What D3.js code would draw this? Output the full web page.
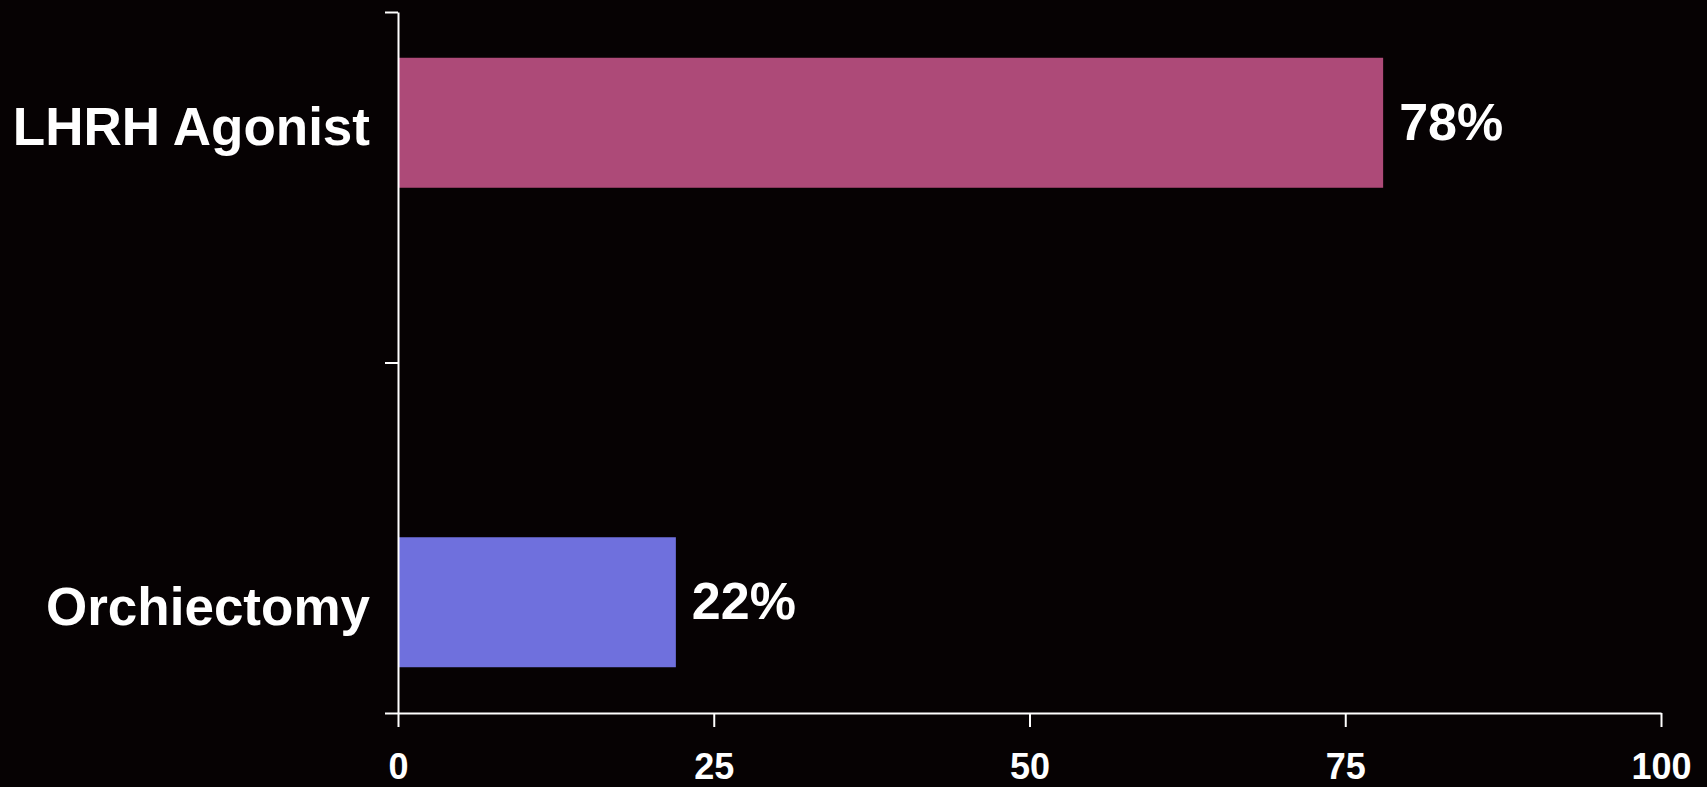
<!DOCTYPE html>
<html>
<head>
<meta charset="utf-8">
<script src="https://cdn.jsdelivr.net/npm/d3@7"></script>
<style>
  html, body { margin: 0; padding: 0; background: #060203; }
  svg { display: block; }
</style>
</head>
<body>
<svg id="chart"></svg>
<script>
// data
const categories = ["LHRH Agonist", "Orchiectomy"];
const values = [78, 22];
const barColors = ["#AD4A78", "#6F70DD"];
const xTicks = [0, 25, 50, 75, 100];

const W = 1707, H = 787;
const margin = {top: 12, right: 46, bottom: 74, left: 398};
const width = W - margin.left - margin.right,
      height = H - margin.top - margin.bottom;

const svg = d3.select("#chart")
    .attr("width", W)
    .attr("height", H)
    .style("font-family", "'Liberation Sans', Arial, sans-serif")
    .style("font-weight", "bold");

svg.append("rect").attr("width", W).attr("height", H).attr("fill", "#060203");

const g = svg.append("g")
    .attr("transform", `translate(${margin.left},${margin.top})`);

// scales
const x = d3.scaleLinear().domain([0, 100]).range([0, width]);

const y = d3.scalePoint()
    .domain(categories)
    .range([0, height])
    .padding(0.231);

// category edges for the tick marks between groups
const yEdge = d3.scaleLinear().domain([0, categories.length]).range([0, height]);

const barH = 130;

// bars
g.selectAll("rect.bar")
    .data(categories)
    .join("rect")
    .attr("class", "bar")
    .attr("x", x(0))
    .attr("y", d => y(d) - barH / 2)
    .attr("width", (d, i) => x(values[i]) - x(0))
    .attr("height", barH)
    .attr("fill", (d, i) => barColors[i]);

// value labels
g.selectAll("text.val")
    .data(categories)
    .join("text")
    .attr("class", "val")
    .attr("x", (d, i) => x(values[i]) + 16)
    .attr("y", d => y(d))
    .attr("dy", "0.33em")
    .attr("fill", "#fff")
    .style("font-size", "52px")
    .text((d, i) => values[i] + "%");

// category labels
g.selectAll("text.cat")
    .data(categories)
    .join("text")
    .attr("class", "cat")
    .attr("x", -28)
    .attr("y", d => y(d))
    .attr("dy", "0.42em")
    .attr("text-anchor", "end")
    .attr("fill", "#fff")
    .style("font-size", "53px")
    .text(d => d);

// y axis
const yAxis = g.append("g")
    .call(d3.axisLeft(yEdge)
        .tickValues(d3.range(categories.length + 1))
        .tickSize(13)
        .tickSizeOuter(0)
        .tickFormat(""));

// x axis
const xAxis = g.append("g")
    .attr("transform", `translate(0,${height})`)
    .call(d3.axisBottom(x)
        .tickValues(xTicks)
        .tickSize(14)
        .tickSizeOuter(0)
        .tickPadding(26));

xAxis.selectAll("text")
    .attr("fill", "#fff")
    .style("font-size", "36px")
    .style("font-family", "'Liberation Sans', Arial, sans-serif")
    .style("font-weight", "bold");

[xAxis, yAxis].forEach(a => {
    a.select(".domain").attr("stroke", "#fff").attr("stroke-width", 2);
    a.selectAll(".tick line").attr("stroke", "#fff").attr("stroke-width", 2);
});
</script>
</body>
</html>
